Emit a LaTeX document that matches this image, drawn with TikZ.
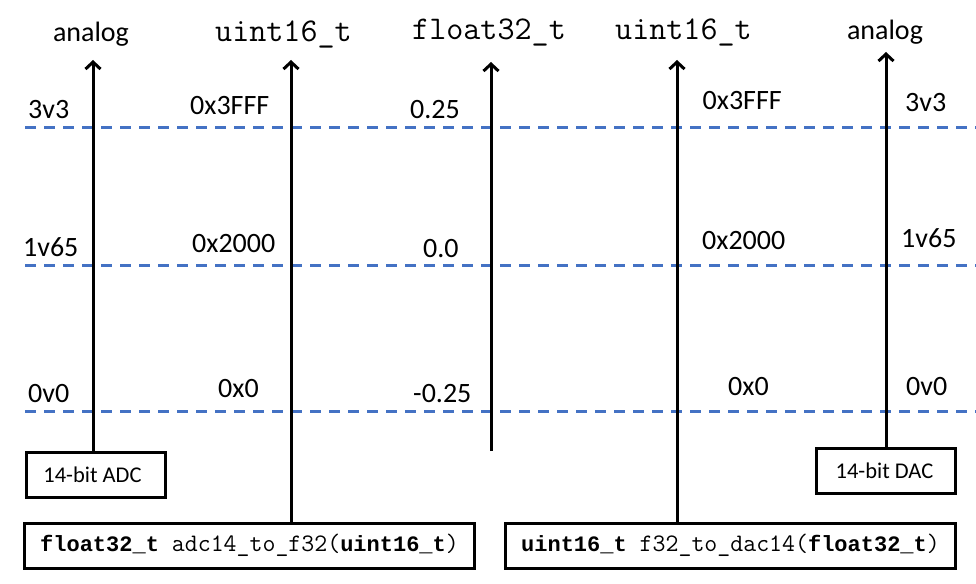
\documentclass[tikz,border=0pt]{standalone}
\usepackage{fontspec}
\setmainfont{Carlito}
\setmonofont{Liberation Mono}
\newfontfamily\thinmono[Scale=1.143]{Latin Modern Mono}
\usetikzlibrary{arrows.meta}
\definecolor{dashblue}{HTML}{4472C4}
\begin{document}
\begin{tikzpicture}[x=1pt,y=-1pt,
  lbl/.style={inner sep=0pt, font=\fontsize{28}{32}\selectfont},
  ttl/.style={inner sep=0pt, font=\fontsize{29}{33}\selectfont\thinmono},
  level/.style={draw=dashblue, line width=3pt, dash pattern=on 11pt off 8pt},
  axis/.style={draw=black, line width=3pt, -{Straight Barb[length=7pt,width=15pt]}},
  chip/.style={draw=black, line width=3pt, inner sep=0pt, minimum width=139pt, minimum height=45pt, font=\fontsize{22.5}{26}\selectfont},
  codebox/.style={draw=black, line width=3pt, inner sep=0pt, minimum width=450pt, minimum height=45pt, font=\fontsize{22}{26}\selectfont\thinmono}
]
\useasboundingbox (0,0) rectangle (976,583);

% dashed levels
\coordinate (l1a) at (25,127); \coordinate (l1b) at (976,127);
\coordinate (l2a) at (25,265); \coordinate (l2b) at (976,265);
\coordinate (l3a) at (25,411); \coordinate (l3b) at (976,411);
\draw[level] (l1a) -- (l1b);
\draw[level] (l2a) -- (l2b);
\draw[level] (l3a) -- (l3b);

% boxes
\node[chip] (adc) at (95.5,475) {\hspace*{-6pt}14-bit ADC};
\node[chip] (dac) at (886,470.5) {\hspace*{-3pt}14-bit DAC};
\node[codebox] (f1) at (249.5,545.5) {{\ttfamily\bfseries float32\_t} adc14\_to\_f32({\ttfamily\bfseries uint16\_t})};
\node[codebox] (f2) at (730.5,545.5) {{\ttfamily\bfseries uint16\_t} f32\_to\_dac14({\ttfamily\bfseries float32\_t})};

% arrow tops
\coordinate (a1) at (93,60);
\coordinate (a2) at (291,60);
\coordinate (a3) at (491,62);
\coordinate (a3b) at (491,451);
\coordinate (a4) at (677,60);
\coordinate (a5) at (886,52);

\draw[axis] (a1 |- adc.north) -- (a1);
\draw[axis] (a2 |- f1.north) -- (a2);
\draw[axis] (a3b) -- (a3);
\draw[axis] (a4 |- f2.north) -- (a4);
\draw[axis] (a5 |- dac.north) -- (a5);

% titles
\node[lbl, anchor=base] (t1) at (91,42) {analog};
\node[ttl, anchor=base west] (t2) at (215,42) {uint16\_t};
\node[ttl, anchor=base west] (t3) at (412,40) {float32\_t};
\node[ttl, anchor=base west] (t4) at (615,40) {uint16\_t};
\node[lbl, anchor=base] (t5) at (885,40) {analog};

% row 3v3
\node[lbl, anchor=base west] (v1a) at (28,118) {3v3};
\node[lbl, anchor=base west] (v1b) at (190,114) {0x3FFF};
\node[lbl, anchor=base west] (v1c) at (410,118) {0.25};
\node[lbl, anchor=base east] (v1d) at (782,110) {0x3FFF};
\node[lbl, anchor=base west] (v1e) at (905,111) {3v3};

% row 1v65
\node[lbl, anchor=base west] (v2a) at (23,256) {1v65};
\node[lbl, anchor=base west] (v2b) at (192,252) {0x2000};
\node[lbl, anchor=base west] (v2c) at (423,257) {0.0};
\node[lbl, anchor=base west] (v2d) at (702,249) {0x2000};
\node[lbl, anchor=base west] (v2e) at (901,247) {1v65};

% row 0v0
\node[lbl, anchor=base west] (v3a) at (28,402) {0v0};
\node[lbl, anchor=base west] (v3b) at (218,397) {0x0};
\node[lbl, anchor=base west] (v3c) at (413,402) {-0.25};
\node[lbl, anchor=base west] (v3d) at (728,395) {0x0};
\node[lbl, anchor=base west] (v3e) at (906,395) {0v0};
\end{tikzpicture}
\end{document}
